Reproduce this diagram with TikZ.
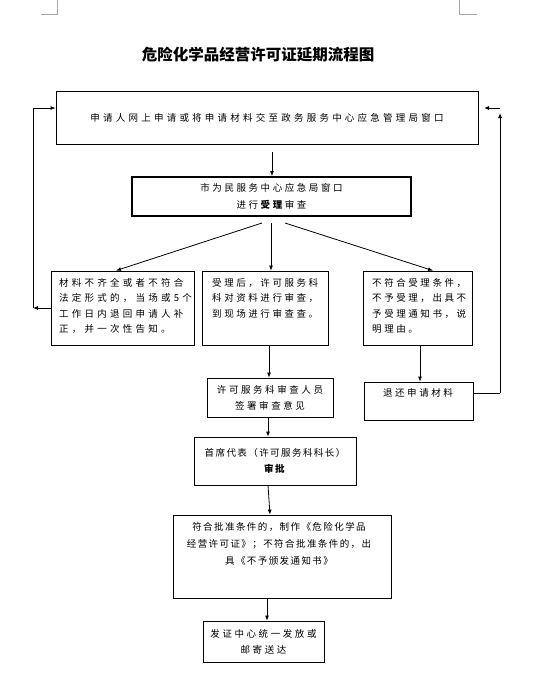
\documentclass[tikz,border=0pt]{standalone}
\usepackage{fontspec}
\newfontfamily\cjk{Noto Sans CJK SC}[LetterSpace=27]
\newfontfamily\cjkw{Noto Sans CJK SC}[LetterSpace=34]
\newfontfamily\cjkn{Noto Sans CJK SC}[LetterSpace=15]
\newfontfamily\cjkt{Noto Sans CJK SC}
\usetikzlibrary{arrows.meta}
\begin{document}
\begin{tikzpicture}[x=1pt,y=-1pt,
  box/.style={draw, line width=0.8pt, inner sep=0pt},
  txt/.style={inner sep=0pt, font=\cjk\fontsize{9.5}{15.5}\selectfont},
  arr/.style={-{Latex[length=5pt,width=4pt]}, line width=0.8pt},
  ln/.style={line width=0.8pt},
  cornermark/.style={draw=black!35, line width=0.8pt}]
\useasboundingbox (0,0) rectangle (540,675);
% corner marks
\draw[cornermark] (41,14) -- (57,14) -- (57,0);
\draw[cornermark] (459,0) -- (459,14) -- (477,14);
% title
\node[inner sep=0pt, font=\cjkt\bfseries\fontsize{15.5}{15.5}\selectfont] (title) at (258,55) {危险化学品经营许可证延期流程图};
% boxes
\node[box, minimum width=422, minimum height=53, font=\cjkw\fontsize{9.5}{15.5}\selectfont] (b1) at (267,117.5) {申请人网上申请或将申请材料交至政务服务中心应急管理局窗口};
\node[box, line width=1.8pt, minimum width=279, minimum height=39, align=center, font=\cjk\fontsize{9.5}{16.5}\selectfont] (b2) at (271.5,196.5) {市为民服务中心应急局窗口\\进行\textbf{受理}审查};
\node[box, minimum width=143, minimum height=74] (b3) at (122.5,308) {};
\node[box, minimum width=126, minimum height=74] (b4) at (265,308) {};
\node[box, minimum width=109, minimum height=74] (b5) at (417.5,308) {};
\node[box, minimum width=109, minimum height=38] (b6) at (418.5,401) {};
\node[box, minimum width=126, minimum height=39, align=center, font=\cjk\fontsize{9.5}{16}\selectfont] (b7) at (270,397.5) {许可服务科审查人员\\签署审查意见};
\node[box, minimum width=162, minimum height=48, align=center, font=\cjkn\fontsize{9.5}{16}\selectfont] (b8) at (275,461) {首席代表（许可服务科科长）\\\textbf{审批}};
\node[box, minimum width=218, minimum height=83] (b9) at (282,556.5) {};
\node[box, minimum width=121, minimum height=41, align=center, font=\cjk\fontsize{9.5}{16}\selectfont] (b10) at (263.5,641.5) {发证中心统一发放或\\邮寄送达};
% texts of top-aligned boxes
\node[txt, font=\cjkw\fontsize{9.5}{15.5}\selectfont, anchor=north west, align=left] (t3) at (59,278) {材料不齐全或者不符合\\法定形式的，当场或5个\\工作日内退回申请人补\\正，并一次性告知。};
\node[txt, anchor=north west, align=left] (t4) at (212,278) {受理后，许可服务科\\科对资料进行审查，\\到现场进行审查查。};
\node[txt, anchor=north west, align=left] (t5) at (372,278) {不符合受理条件，\\不予受理，出具不\\予受理通知书，说\\明理由。};
\node[txt] (t6) at (418,393) {退还申请材料};
\node[txt, font=\cjkn\fontsize{9.5}{17}\selectfont, anchor=north, align=center] (t9) at (279,522) {符合批准条件的，制作《危险化学品\\经营许可证》；不符合批准条件的，出\\具《不予颁发通知书》};
% connectors
\coordinate (a1) at (272,152);
\draw[arr] (a1) -- (a1 |- b2.north);
\coordinate (fc) at (271,223);
\coordinate (fl) at (262,223);
\coordinate (fr) at (285,223);
\draw[arr] (fc) -- (fc |- b4.north);
\draw[arr] (fl) -- ([xshift=-6.5pt]b3.north);
\draw[arr] (fr) -- ([xshift=15.5pt]b5.north);
% left loop
\coordinate (L1) at (33,308);
\coordinate (L2) at (32,108);
\draw[arr] (b3.west) -- (L1);
\draw[arr] (L1) -- (L1 |- L2) -- (b1.west |- L2);
% right loop
\coordinate (R1) at (500,393);
\coordinate (R2) at (500,113);
\coordinate (R3) at (500,108);
\coordinate (R4) at (484,108);
\draw[ln] ([yshift=8pt]b6.east) -- (R1);
\draw[arr] (R1) -- (R2);
\draw[arr] (R3) -- (R4);
% vertical chain
\draw[arr] ([xshift=2.5pt]b5.south) -- ([xshift=1.5pt]b6.north);
\draw[arr] ([xshift=4pt]b4.south) -- ([xshift=-1pt]b7.north);
\draw[arr] ([xshift=-2pt]b7.south) -- ([xshift=-7pt]b8.north);
\draw[arr] ([xshift=-7pt]b8.south) -- ([xshift=-12pt]b9.north);
\draw[arr] ([xshift=-15pt]b9.south) -- ([xshift=3.5pt]b10.north);
\end{tikzpicture}
\end{document}
